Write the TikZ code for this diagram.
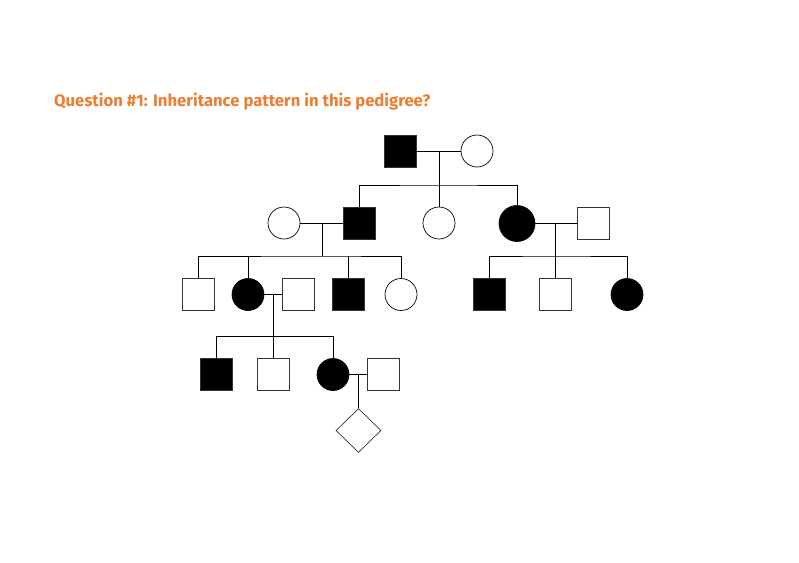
\documentclass[tikz,border=0pt]{standalone}
\usepackage{fontspec}
\setmainfont{Fira Sans}
\usetikzlibrary{shapes.geometric}
\definecolor{qorange}{RGB}{237,125,49}
\begin{document}
\begin{tikzpicture}[x=1pt,y=-1pt,
  male/.style={draw=black!80,rectangle,minimum size=32pt,inner sep=0pt,line width=0.7pt},
  female/.style={draw=black,circle,minimum size=32pt,inner sep=0pt,line width=0.7pt},
  aff/.style={fill=black},
  unk/.style={draw=black!80,diamond,minimum width=45pt,minimum height=44pt,inner sep=0pt,line width=0.7pt},
  link/.style={line width=0.8pt,black}]
\useasboundingbox (0,0) rectangle (799,562);
\node[anchor=base west,inner sep=0pt,text=qorange,font=\bfseries] (title) at (54,106.5)
  {\resizebox{376pt}{!}{Question \#1: Inheritance pattern in this pedigree?}};
% generation I
\node[male,aff] (I1) at (400,151) {};
\node[female] (I2) at (477,151) {};
% generation II
\node[female] (IIa) at (284,223) {};
\node[male,aff] (IIb) at (359,223) {};
\node[female] (IIc) at (439,223) {};
\node[female,aff,minimum size=36pt] (IId) at (517,223.5) {};
\node[male] (IIe) at (593,223) {};
% generation III
\node[male] (IIIa) at (198,294.5) {};
\node[female,aff] (IIIb) at (248,294.5) {};
\node[male] (IIIc) at (298,294.5) {};
\node[male,aff] (IIId) at (348,294.5) {};
\node[female] (IIIe) at (401,294.5) {};
\node[male,aff] (IIIf) at (489,294.5) {};
\node[male] (IIIg) at (555,294.5) {};
\node[female,aff] (IIIh) at (627,294.5) {};
% generation IV
\node[male,aff] (IVa) at (216,374.5) {};
\node[male] (IVb) at (273,374.5) {};
\node[female,aff] (IVc) at (333,374.5) {};
\node[male] (IVd) at (383,374.5) {};
% generation V
\node[unk] (V) at (358.5,430.5) {};
% junction points
\coordinate (m1) at (439,151);
\coordinate (s1) at (439,185);
\coordinate (m2) at (322,223);
\coordinate (s2) at (322,256);
\coordinate (m3) at (555,223);
\coordinate (s3) at (555,256);
\coordinate (m4) at (273,294.5);
\coordinate (s4) at (273,336.5);
\coordinate (m5) at (358.5,374.5);
% connectors
\draw[link] (I1.east) -- (I2.west);
\draw[link] (m1) -- (IIc.north);
\draw[link] (IIb.north) |- (s1) -| (IId.north);
\draw[link] (IIa.east) -- (IIb.west);
\draw[link] (m2) -- (s2);
\draw[link] (IIIa.north) |- (s2) -| (IIIe.north);
\draw[link] (IIIb.north) -- (IIIb.north |- s2);
\draw[link] (IIId.north) -- (IIId.north |- s2);
\draw[link] (IIe.west) -- (IIe.west -| IId.east);
\draw[link] (m3) -- (IIIg.north);
\draw[link] (IIIf.north) |- (s3) -| (IIIh.north);
\draw[link] (IIIb.east) -- (IIIc.west);
\draw[link] (m4) -- (IVb.north);
\draw[link] (IVa.north) |- (s4) -| (IVc.north);
\draw[link] (IVc.east) -- (IVd.west);
\draw[link] (m5) -- (V.north);
\end{tikzpicture}
\end{document}
